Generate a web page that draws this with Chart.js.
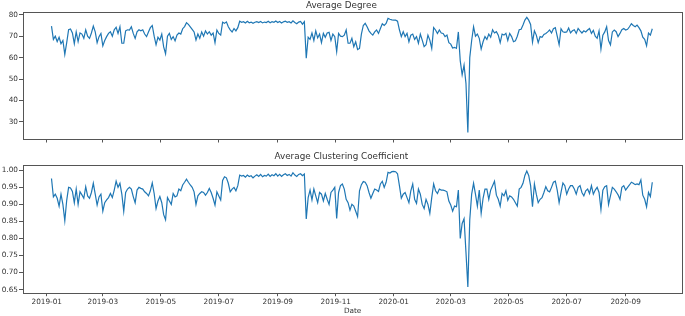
<!DOCTYPE html>
<html>
<head>
<meta charset="utf-8">
<script src="https://cdn.jsdelivr.net/npm/chart.js@4.4.0/dist/chart.umd.min.js"></script>
<style>
  body { margin: 0; background: #fff; }
  canvas { position: absolute; left: 0; }
  #degreeChart { top: 0; }
  #clusteringChart { top: 150px; }
</style>
</head>
<body>
<canvas id="degreeChart" width="685" height="150"></canvas>
<canvas id="clusteringChart" width="685" height="166"></canvas>
<script>
// one value every 2 days, 2019-01-06 .. 2020-09-29
const startDate = '2019-01-06';
const stepDays = 2;

const degree = [
    74.7, 68.5, 70, 67.5, 69.5, 66.5, 68, 61.5, 67, 73,
    73.4, 71.5, 66.5, 72, 67.5, 71.5, 71, 69, 73, 70,
    69, 71.5, 74.7, 72, 67, 69.8, 71.3, 65.5, 68, 69.8,
    71.3, 72.1, 70, 73, 74.2, 71.3, 74.4, 66.7, 66.7, 72.5,
    73, 72.9, 74.4, 71.3, 69, 72, 73, 72.5, 73, 71,
    69.8, 72, 74, 75, 70, 66, 69.5, 68.2, 71, 65,
    61.8, 70, 71.3, 68.5, 69.8, 67.8, 70.5, 71.5, 71, 73.5,
    74.5, 76.3, 75.5, 74.4, 73.2, 72, 68.2, 71, 69, 72,
    70, 72.5, 71, 72.1, 70.5, 71.5, 67, 72.9, 71.3, 70.5,
    76.5, 76, 76.7, 74.4, 73, 72, 73.6, 72.5, 74, 77,
    76.5, 76.8, 76.2, 77, 76.3, 76.6, 76, 76.5, 76.8, 76.4,
    76.9, 76.2, 76.6, 76.4, 77, 76.3, 76.8, 76.5, 77.1, 76.4,
    76.9, 76.2, 76.7, 77, 76.5, 76.8, 76.2, 77.2, 76.4, 75.8,
    76.6, 76.9, 75.6, 76.8, 59.7, 69.5, 68.5, 71.5, 68, 72.5,
    69.2, 71, 67, 71.3, 69.5, 71.5, 71.8, 68, 71, 69.8,
    62.8, 71.3, 70, 69.8, 70.5, 72.9, 66.7, 66.7, 69, 65.1,
    67.4, 63.8, 64.3, 71, 75, 76, 74.4, 72.5, 71.3, 70.5,
    72, 72.9, 71.3, 73.6, 75.8, 75, 76, 78.3, 77.9, 77.6,
    77.5, 77.5, 77, 73, 69.8, 72.1, 69.8, 71.3, 67.4, 70.5,
    71, 68.5, 69.8, 66.7, 71, 68.2, 65.1, 66, 70.5, 68.2,
    64.3, 74, 72.9, 71.3, 72.9, 71.5, 71.3, 69.8, 70.5, 67,
    66.3, 64.5, 64.8, 64.3, 72, 58.5, 52, 56.5, 48, 25,
    60, 68, 74.4, 70, 71, 69, 64, 67.4, 69.8, 68.5,
    71, 69.5, 73, 71.5, 72.1, 70.5, 67, 71, 70.5, 71.3,
    68, 71.3, 69.8, 67.4, 67.8, 70, 73, 73.2, 75.2, 77.5,
    78.8, 77.5, 75.5, 67.2, 72.5, 70.5, 67, 69.8, 69.5, 70.8,
    71.3, 72, 72.9, 71.5, 73.5, 74, 70, 66, 73.5, 72.1,
    71.8, 72, 73.8, 71.5, 72.5, 73, 71.3, 73.6, 72.5, 71.5,
    72.5, 72, 72.9, 73.6, 71.3, 72.7, 70, 69, 72.5, 64,
    70.5, 72, 74.4, 68, 66, 72, 72.9, 72.1, 69.8, 71.3,
    73, 73.6, 72.9, 73.2, 74.4, 75.8, 75, 74.4, 75.2, 74,
    72.5, 69.5, 68.5, 65.5, 71.5, 70.5, 73.5
];

const clustering = [
    0.976, 0.922, 0.930, 0.918, 0.895, 0.930, 0.900, 0.852, 0.912, 0.950,
    0.948, 0.938, 0.905, 0.945, 0.900, 0.937, 0.928, 0.918, 0.952, 0.925,
    0.918, 0.935, 0.962, 0.930, 0.898, 0.922, 0.930, 0.880, 0.905, 0.913,
    0.920, 0.932, 0.920, 0.942, 0.968, 0.950, 0.962, 0.930, 0.880, 0.935,
    0.945, 0.950, 0.945, 0.923, 0.905, 0.942, 0.950, 0.947, 0.945, 0.937,
    0.932, 0.925, 0.940, 0.963, 0.932, 0.888, 0.910, 0.923, 0.905, 0.870,
    0.855, 0.920, 0.910, 0.900, 0.932, 0.922, 0.925, 0.945, 0.940, 0.957,
    0.965, 0.974, 0.965, 0.957, 0.950, 0.937, 0.900, 0.925, 0.932, 0.937,
    0.935, 0.927, 0.935, 0.947, 0.935, 0.918, 0.898, 0.937, 0.925, 0.913,
    0.970, 0.981, 0.978, 0.962, 0.937, 0.945, 0.950, 0.940, 0.955, 0.986,
    0.983, 0.985, 0.980, 0.986, 0.982, 0.984, 0.978, 0.983, 0.987, 0.982,
    0.988, 0.981, 0.985, 0.983, 0.989, 0.982, 0.987, 0.984, 0.990, 0.983,
    0.988, 0.982, 0.987, 0.990, 0.985, 0.988, 0.983, 0.993, 0.986, 0.982,
    0.988, 0.990, 0.984, 0.989, 0.857, 0.920, 0.942, 0.913, 0.945, 0.925,
    0.905, 0.935, 0.930, 0.910, 0.932, 0.915, 0.900, 0.935, 0.942, 0.950,
    0.859, 0.935, 0.955, 0.960, 0.945, 0.915, 0.905, 0.883, 0.900, 0.895,
    0.880, 0.864, 0.940, 0.958, 0.967, 0.965, 0.955, 0.935, 0.918, 0.932,
    0.945, 0.942, 0.938, 0.960, 0.968, 0.950, 0.965, 0.994, 0.992, 0.996,
    0.997, 0.996, 0.990, 0.955, 0.918, 0.930, 0.935, 0.920, 0.905, 0.940,
    0.960, 0.915, 0.903, 0.945, 0.930, 0.900, 0.888, 0.915, 0.900, 0.874,
    0.920, 0.960, 0.940, 0.932, 0.945, 0.942, 0.942, 0.940, 0.937, 0.910,
    0.898, 0.880, 0.895, 0.893, 0.942, 0.800, 0.844, 0.858, 0.760, 0.658,
    0.855, 0.930, 0.962, 0.930, 0.895, 0.942, 0.874, 0.918, 0.945, 0.945,
    0.915, 0.942, 0.955, 0.968, 0.927, 0.915, 0.895, 0.932, 0.925, 0.940,
    0.912, 0.925, 0.922, 0.915, 0.905, 0.895, 0.945, 0.950, 0.962, 0.985,
    0.998, 0.985, 0.955, 0.893, 0.960, 0.930, 0.905, 0.915, 0.920, 0.935,
    0.952, 0.940, 0.937, 0.950, 0.965, 0.968, 0.942, 0.905, 0.935, 0.963,
    0.955, 0.930, 0.945, 0.955, 0.955, 0.945, 0.930, 0.950, 0.955, 0.935,
    0.925, 0.940, 0.945, 0.932, 0.955, 0.930, 0.942, 0.950, 0.935, 0.885,
    0.942, 0.952, 0.955, 0.900, 0.925, 0.950, 0.945, 0.937, 0.928, 0.915,
    0.950, 0.955, 0.942, 0.950, 0.957, 0.965, 0.962, 0.958, 0.960, 0.958,
    0.972, 0.927, 0.915, 0.893, 0.935, 0.923, 0.965
];

const monthTicks = ['2019-01', '2019-03', '2019-05', '2019-07', '2019-09', '2019-11',
    '2020-01', '2020-03', '2020-05', '2020-07', '2020-09'];
const degreeTicks = [30, 40, 50, 60, 70, 80];
const clusteringTicks = [0.65, 0.70, 0.75, 0.80, 0.85, 0.90, 0.95, 1.00];

// x axis works in days counted from 2019-01-01
const ORIGIN = Date.UTC(2019, 0, 1);
function dayOf(str) {
    const [y, m, d] = str.split('-').map(Number);
    return (Date.UTC(y, m - 1, d || 1) - ORIGIN) / 86400000;
}
const firstDay = dayOf(startDate);
const monthDays = monthTicks.map(dayOf);
const xMin = -25.5;
const xMax = 669;

const INK = '#333';
const SPINE = '#555';
Chart.defaults.font.family = "'DejaVu Sans', sans-serif";
Chart.defaults.color = INK;

const frame = {
    id: 'frame',
    afterDraw(chart) {
        const { ctx, chartArea: a } = chart;
        ctx.save();
        ctx.strokeStyle = SPINE;
        ctx.lineWidth = 1;
        ctx.strokeRect(Math.round(a.left) + 0.5, Math.round(a.top) + 0.5,
            Math.round(a.right - a.left) - 1, Math.round(a.bottom - a.top));
        ctx.restore();
    }
};

function makeChart(id, values, cfg) {
    return new Chart(document.getElementById(id), {
        type: 'line',
        data: {
            datasets: [{
                data: values.map((v, i) => ({ x: firstDay + i * stepDays, y: v })),
                borderColor: '#1f77b4',
                borderWidth: 1.2,
                pointRadius: 0,
                tension: 0,
                fill: false
            }]
        },
        options: {
            responsive: false,
            animation: false,
            devicePixelRatio: 1,
            layout: { padding: { left: 0, right: 2.3, top: 0, bottom: 0 } },
            plugins: {
                legend: { display: false },
                tooltip: { enabled: false },
                title: {
                    display: true,
                    text: cfg.title,
                    color: INK,
                    font: { size: 8.8, weight: 'normal' },
                    padding: cfg.titlePadding
                }
            },
            scales: {
                x: {
                    type: 'linear',
                    min: xMin,
                    max: xMax,
                    afterBuildTicks: (s) => { s.ticks = monthDays.map(v => ({ value: v })); },
                    afterFit: (s) => { s.height = cfg.xHeight; },
                    border: { display: false },
                    grid: { drawOnChartArea: false, drawTicks: true, tickLength: 3.5, color: SPINE },
                    ticks: {
                        display: cfg.showDates,
                        autoSkip: false,
                        maxRotation: 0,
                        padding: 1.2,
                        font: { size: 7.3 },
                        callback: (v, i) => monthTicks[i]
                    },
                    title: {
                        display: cfg.showDates,
                        text: 'Date',
                        font: { size: 7.3 },
                        padding: { top: 0, bottom: 0.6 }
                    }
                },
                y: {
                    min: cfg.yMin,
                    max: cfg.yMax,
                    afterBuildTicks: (s) => { s.ticks = cfg.yTicks.map(v => ({ value: v })); },
                    afterFit: (s) => { s.width = 22.5; },
                    border: { display: false },
                    grid: { drawOnChartArea: false, drawTicks: true, tickLength: 3.5, color: SPINE },
                    ticks: {
                        padding: 1,
                        font: { size: 7.3 },
                        callback: cfg.yFormat
                    }
                }
            }
        },
        plugins: [frame]
    });
}

const degreeChart = makeChart('degreeChart', degree, {
    title: 'Average Degree',
    titlePadding: { top: 0, bottom: 1.44 },
    xHeight: 11,
    showDates: false,
    yMin: 22.0,
    yMax: 81.3,
    yTicks: degreeTicks,
    yFormat: (v) => String(v)
});

const clusteringChart = makeChart('clusteringChart', clustering, {
    title: 'Average Clustering Coefficient',
    titlePadding: { top: 1.4, bottom: 3.04 },
    xHeight: 23.3,
    showDates: true,
    yMin: 0.641,
    yMax: 1.0156,
    yTicks: clusteringTicks,
    yFormat: (v) => v.toFixed(2)
});
</script>
</body>
</html>
